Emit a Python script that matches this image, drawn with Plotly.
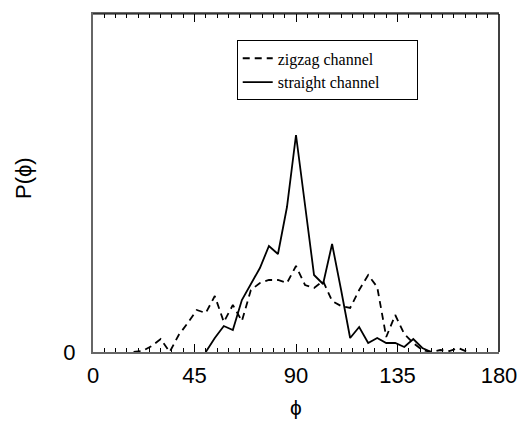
import plotly.graph_objects as go

# angle bins (degrees)
phi_zigzag = [18, 22, 26, 30, 34, 38, 42, 46, 50, 54, 58, 62, 66, 70, 74, 78, 82, 86,
              90, 94, 98, 102, 106, 110, 114, 118, 122, 126, 130, 134, 138, 142, 146,
              150, 154, 158, 162, 166]
p_zigzag = [0, 1, 6, 13, 0, 17, 29, 42, 39, 56, 30, 47, 31, 62, 69, 72, 72, 69,
            86, 67, 64, 71, 51, 46, 44, 62, 77, 65, 15, 37, 18, 9, 2,
            0, 2, 1, 4, 0]

phi_straight = [50, 54, 58, 62, 66, 70, 74, 78, 82, 86, 90, 94, 98, 102, 106, 110,
                114, 118, 122, 126, 130, 134, 138, 142, 146, 150]
p_straight = [0, 14, 26, 22, 52, 68, 84, 106, 98, 145, 217, 147, 77, 68, 108, 62,
              14, 25, 9, 14, 9, 9, 5, 13, 4, 0]

x_ticks = [0, 45, 90, 135, 180]
y_ticks = [0]

fig = go.Figure()
fig.add_trace(go.Scatter(x=phi_zigzag, y=p_zigzag, mode="lines", name="zigzag channel",
                         line=dict(color="black", width=1.8, dash="7px,5px")))
fig.add_trace(go.Scatter(x=phi_straight, y=p_straight, mode="lines",
                         name="straight channel" + "\u00a0" * 8,
                         line=dict(color="black", width=1.8)))

# top and right frame lines (black)
fig.add_shape(type="line", xref="paper", yref="paper", x0=0, x1=1, y0=1, y1=1,
              line=dict(color="black", width=1.2))
fig.add_shape(type="line", xref="paper", yref="paper", x0=1, x1=1, y0=0, y1=1,
              line=dict(color="black", width=1.5))

# axis titles
fig.add_annotation(text="ϕ", xref="paper", yref="paper", x=0.5, y=0, yanchor="middle",
                   yshift=-55, showarrow=False, font=dict(size=21))
fig.add_annotation(text="P(ϕ)", xref="paper", yref="paper", x=0, y=0.5, xanchor="center",
                   yanchor="middle", xshift=-70, yshift=5, textangle=-90, showarrow=False,
                   font=dict(size=22))

fig.update_layout(
    width=525, height=421,
    margin=dict(l=93, r=26, t=14, b=69),
    paper_bgcolor="white", plot_bgcolor="white",
    font=dict(family="Liberation Sans, Arial, sans-serif", size=22, color="black"),
    showlegend=True,
    legend=dict(x=0.354, y=0.922, xanchor="left", yanchor="top",
                bordercolor="black", borderwidth=1, bgcolor="white",
                font=dict(family="Liberation Serif, Times New Roman, serif", size=16),
                itemwidth=30, tracegroupgap=0),
    xaxis=dict(range=[0, 180], tickvals=x_ticks, ticktext=[str(v) for v in x_ticks],
               ticks="inside", ticklen=8, tickwidth=1.2, tickcolor="black",
               showline=True, linecolor="#666666", linewidth=2, mirror="ticks",
               showgrid=False, zeroline=False, ticklabelstandoff=3, automargin=False,
               minor=dict(dtick=5, tick0=0, ticks="inside", ticklen=4, tickwidth=1.2,
                          tickcolor="black", showgrid=False)),
    yaxis=dict(range=[0, 338], tickvals=y_ticks, ticktext=["0"], ticks="",
               showline=True, linecolor="#666666", linewidth=2,
               showgrid=False, zeroline=False, ticklabelstandoff=11, automargin=False),
)

fig.write_html("out.html", config={"displayModeBar": False},
               post_script="document.body.style.margin='0px';")
